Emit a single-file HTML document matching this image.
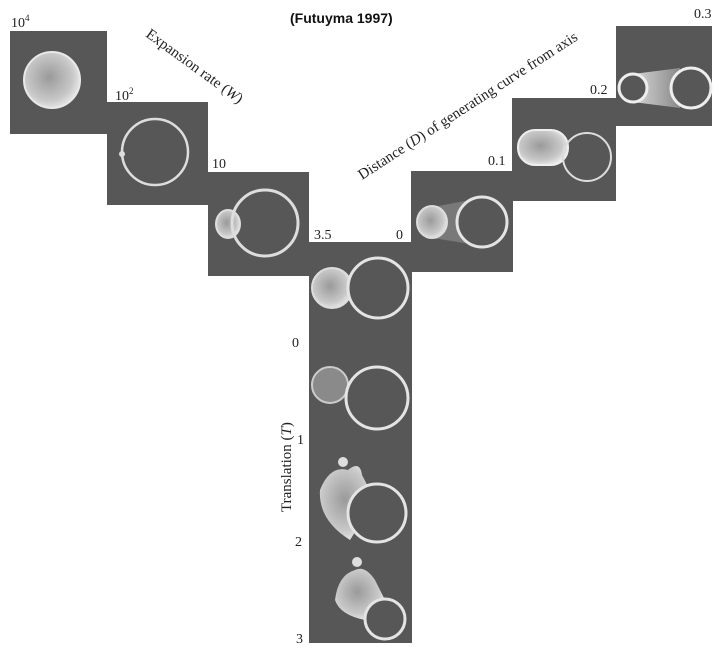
<!DOCTYPE html>
<html><head><meta charset="utf-8"><style>
html,body{margin:0;padding:0;background:#fff;}
svg{display:block;}
text{font-family:"Liberation Serif",serif;fill:#222;}
</style></head><body>
<svg width="723" height="650" viewBox="0 0 723 650" xmlns="http://www.w3.org/2000/svg">
<defs>
<radialGradient id="bl" cx="45%" cy="45%" r="60%"><stop offset="0" stop-color="#9a9a9a"/><stop offset="0.7" stop-color="#c8c8c8"/><stop offset="1" stop-color="#eee"/></radialGradient>
<linearGradient id="tube" x1="0" x2="1"><stop offset="0" stop-color="#d8d8d8"/><stop offset="1" stop-color="#888"/></linearGradient>
</defs>
<g fill="#575757">
<rect x="10" y="31" width="97" height="103"/>
<rect x="107" y="102" width="101" height="103"/>
<rect x="208" y="172" width="101" height="104"/>
<rect x="309" y="242" width="103" height="401"/>
<rect x="411" y="171" width="102" height="101"/>
<rect x="512" y="98" width="104" height="103"/>
<rect x="616" y="26" width="96" height="100"/>
</g>
<circle cx="52" cy="80" r="28" fill="url(#bl)" stroke="#e8e8e8" stroke-width="2"/>
<circle cx="155" cy="152" r="33" fill="none" stroke="#ddd" stroke-width="2.5"/>
<circle cx="122" cy="154" r="3" fill="#ddd"/>
<ellipse cx="228" cy="224" rx="12" ry="14" fill="url(#bl)" stroke="#ddd" stroke-width="2"/>
<circle cx="265" cy="223" r="33" fill="none" stroke="#ddd" stroke-width="3"/>
<path d="M433 207 L470 200 L470 244 L433 238 Z" fill="#888" opacity="0.7"/>
<ellipse cx="432" cy="222" rx="15" ry="16" fill="url(#bl)" stroke="#ddd" stroke-width="2"/>
<circle cx="482" cy="222" r="25" fill="#575757" stroke="#e4e4e4" stroke-width="3"/>
<rect x="518" y="130" width="50" height="35" rx="17" fill="url(#bl)" stroke="#eee" stroke-width="2"/>
<circle cx="587" cy="157" r="24" fill="none" stroke="#ddd" stroke-width="2"/>
<path d="M633 74 L680 68 L680 108 L633 102 Z" fill="url(#tube)"/>
<circle cx="633" cy="88" r="14" fill="#575757" stroke="#eee" stroke-width="3"/>
<circle cx="691" cy="88" r="20" fill="#575757" stroke="#eee" stroke-width="3"/>
<ellipse cx="332" cy="288" rx="20" ry="20" fill="url(#bl)" stroke="#ddd" stroke-width="2"/>
<circle cx="378" cy="288" r="30" fill="#575757" stroke="#e4e4e4" stroke-width="3"/>
<ellipse cx="330" cy="385" rx="18" ry="18" fill="#8a8a8a" stroke="#ccc" stroke-width="2"/>
<circle cx="377" cy="398" r="31" fill="#575757" stroke="#e4e4e4" stroke-width="3"/>
<path d="M320 490 Q330 465 348 470 Q360 460 362 475 L375 500 L350 540 Q318 520 320 490Z" fill="url(#bl)"/>
<circle cx="343" cy="462" r="5" fill="#ddd"/>
<circle cx="377" cy="513" r="29" fill="#575757" stroke="#e4e4e4" stroke-width="3"/>
<path d="M335 600 Q338 575 355 570 Q365 565 375 580 L385 600 L365 620 Q340 615 335 600Z" fill="url(#bl)"/>
<circle cx="357" cy="562" r="5" fill="#ddd"/>
<circle cx="385" cy="619" r="20" fill="#575757" stroke="#e4e4e4" stroke-width="3"/>
<text x="290" y="23" style="font-family:'Liberation Sans',sans-serif;font-weight:bold;font-size:14px;fill:#111">(Futuyma 1997)</text>
<text x="11" y="27" font-size="14">10<tspan dy="-6" font-size="9">4</tspan></text>
<text x="115" y="100" font-size="14">10<tspan dy="-6" font-size="9">2</tspan></text>
<text x="212" y="168" font-size="14">10</text>
<text x="314" y="239" font-size="14">3.5</text>
<text x="396" y="239" font-size="14">0</text>
<text x="488" y="165" font-size="14">0.1</text>
<text x="590" y="94" font-size="14">0.2</text>
<text x="694" y="18" font-size="14">0.3</text>
<text transform="translate(145,36) rotate(36)" font-size="15">Expansion rate (<tspan font-style="italic">W</tspan>)</text>
<text transform="translate(362,180) rotate(-33)" font-size="15">Distance (<tspan font-style="italic">D</tspan>) of generating curve from axis</text>
<text transform="translate(291,512) rotate(-90)" font-size="15">Translation (<tspan font-style="italic">T</tspan>)</text>
<text x="292" y="347" font-size="14">0</text>
<text x="297" y="444" font-size="14">1</text>
<text x="295" y="546" font-size="14">2</text>
<text x="296" y="643" font-size="14">3</text>
</svg>
</body></html>
